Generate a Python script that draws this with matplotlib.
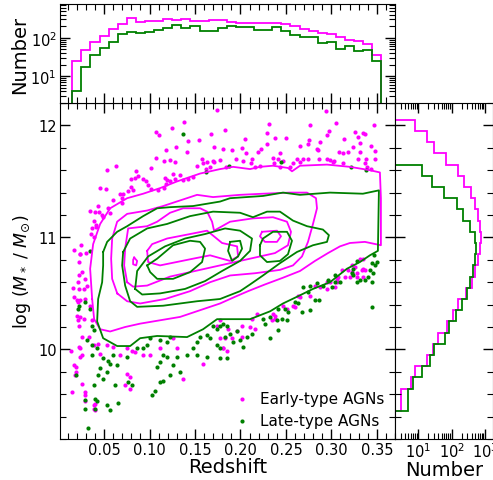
import numpy as np
import matplotlib
matplotlib.use("Agg")
import matplotlib.pyplot as plt
from matplotlib.ticker import MultipleLocator, LogLocator, NullFormatter

MAGENTA = "#ff00ff"
GREEN = "#008000"

# redshift histogram (34 bins of 0.01 starting at z = 0.015)
z_edges = np.linspace(0.015, 0.355, 35)
early_z_counts = [25, 48, 79, 110, 170, 228, 325, 262, 273, 277, 312, 290, 300, 267,
                  266, 290, 290, 257, 236, 245, 250, 250, 245, 228, 198, 173, 151,
                  134, 122, 106, 87, 82, 67, 36]
late_z_counts = [4, 17, 36, 53, 80, 127, 142, 131, 142, 163, 184, 216, 176, 206,
                 154, 154, 180, 198, 191, 195, 160, 160, 187, 154, 117, 104, 103,
                 74, 80, 50, 62, 46, 48, 25]

# stellar mass histogram (0.1 dex bins)
early_m_edges = np.linspace(9.45, 12.05, 27)
early_m_counts = [3, 3, 6, 8, 18, 28, 40, 74, 112, 158, 275, 398, 500, 600, 705,
                  755, 705, 625, 522, 370, 240, 151, 67, 30, 18, 8]
late_m_edges = np.linspace(9.45, 11.65, 23)
late_m_counts = [5, 5, 7, 13, 23, 30, 63, 85, 132, 209, 283, 355, 444, 522, 536,
                 500, 355, 224, 141, 59, 25, 13]

# individual galaxies outside the contours: (redshift, log M*)
early_pts = [
    (0.1746, 12.14), (0.2941, 12.13), (0.138, 12.03), (0.231, 12.01), (0.2765, 12.00),
    (0.305, 12.02), (0.347, 12.00), (0.125, 11.98), (0.183, 11.96), (0.107, 11.94),
    (0.110, 11.91), (0.168, 11.92), (0.2296, 11.93), (0.297, 11.95), (0.326, 11.94),
    (0.335, 11.93), (0.337, 11.92), (0.2955, 11.91), (0.238, 11.89), (0.250, 11.89),
    (0.314, 11.88), (0.1427, 11.86), (0.1548, 11.87), (0.2054, 11.88), (0.2757, 11.87),
    (0.2875, 11.85), (0.329, 11.90), (0.1296, 11.81), (0.1713, 11.81), (0.2296, 11.83),
    (0.2655, 11.82), (0.274, 11.83), (0.3314, 11.84), (0.3432, 11.82), (0.1182, 11.78),
    (0.1812, 11.79), (0.1904, 11.78), (0.2014, 11.80), (0.2226, 11.79), (0.2838, 11.79),
    (0.2856, 11.78), (0.308, 11.76), (0.3234, 11.81), (0.348, 11.77), (0.141, 11.76),
    (0.2058, 11.75), (0.2197, 11.76), (0.2438, 11.75), (0.3131, 11.75), (0.3186, 11.76),
    (0.3314, 11.76), (0.1073, 11.71), (0.1581, 11.70), (0.163, 11.67), (0.1696, 11.68),
    (0.1776, 11.69), (0.1948, 11.70), (0.2029, 11.68), (0.2124, 11.70), (0.2362, 11.71),
    (0.241, 11.70), (0.2471, 11.68), (0.2619, 11.70), (0.2691, 11.70), (0.2746, 11.70),
    (0.2867, 11.70), (0.2948, 11.70), (0.2985, 11.69), (0.3032, 11.68), (0.3289, 11.70),
    (0.3377, 11.70), (0.3476, 11.70), (0.1157, 11.68), (0.1226, 11.69), (0.1281, 11.67),
    (0.1018, 11.62), (0.152, 11.64), (0.1592, 11.66), (0.1622, 11.61), (0.1666, 11.63),
    (0.1713, 11.67), (0.1838, 11.63), (0.212, 11.66), (0.216, 11.63), (0.2215, 11.64),
    (0.2373, 11.66), (0.2435, 11.63), (0.2545, 11.63), (0.2581, 11.66), (0.2655, 11.67),
    (0.3021, 11.67), (0.3131, 11.66), (0.3369, 11.66), (0.3388, 11.63), (0.3432, 11.61),
    (0.0856, 11.59), (0.0537, 11.60), (0.0633, 11.64), (0.0871, 11.55), (0.0842, 11.53),
    (0.0795, 11.52), (0.0933, 11.52), (0.0963, 11.50), (0.1263, 11.57), (0.1336, 11.56),
    (0.1171, 11.53), (0.1197, 11.51), (0.1226, 11.50), (0.1281, 11.52), (0.1366, 11.51),
    (0.1427, 11.52), (0.1482, 11.54), (0.0988, 11.47), (0.1014, 11.43), (0.1091, 11.42),
    (0.1179, 11.48), (0.116, 11.44), (0.0798, 11.45), (0.0816, 11.42), (0.0768, 11.41),
    (0.0713, 11.39), (0.0677, 11.39), (0.0457, 11.44), (0.052, 11.43), (0.0702, 11.35),
    (0.0603, 11.33), (0.0696, 11.31), (0.034, 11.24), (0.0432, 11.28), (0.0402, 11.23),
    (0.0449, 11.23), (0.0476, 11.20), (0.0493, 11.18), (0.0548, 11.26), (0.0567, 11.22),
    (0.0384, 11.15), (0.0413, 11.11), (0.0366, 11.08), (0.0358, 11.03), (0.0384, 11.00),
    (0.041, 11.09), (0.0248, 10.93), (0.0164, 10.89), (0.023, 10.85), (0.0303, 10.86),
    (0.0157, 10.55), (0.0223, 10.78), (0.0223, 10.66), (0.0215, 10.60), (0.0223, 10.54),
    (0.0201, 10.44), (0.0215, 10.42), (0.0201, 10.30), (0.0215, 10.26), (0.0223, 10.21),
    (0.0135, 9.99), (0.0219, 10.02), (0.0171, 9.86), (0.0186, 9.84), (0.0186, 9.80),
    (0.0146, 9.62), (0.0237, 9.93), (0.0237, 10.85), (0.0256, 10.69), (0.0292, 10.63),
    (0.0311, 10.57), (0.0274, 10.54), (0.0164, 10.47), (0.0237, 10.44), (0.0292, 10.45),
    (0.0347, 10.39), (0.0237, 10.29), (0.0274, 10.27), (0.0366, 10.26), (0.0256, 10.11),
    (0.0329, 10.11), (0.0237, 10.01), (0.0256, 9.95), (0.0182, 9.77), (0.0256, 9.69),
    (0.0292, 9.62), (0.0292, 9.59), (0.0384, 9.50), (0.0384, 9.47), (0.0384, 10.04),
    (0.0438, 10.05), (0.0457, 9.96), (0.0531, 10.04), (0.0603, 10.02), (0.0677, 9.95),
    (0.0751, 10.01), (0.0805, 9.99), (0.0842, 9.98), (0.0933, 9.95), (0.1007, 9.95),
    (0.1116, 10.01), (0.1263, 10.10), (0.13, 10.01), (0.0751, 9.78), (0.0787, 9.75),
    (0.0732, 9.68), (0.0787, 9.65), (0.1373, 9.74), (0.1592, 9.87), (0.1812, 10.01),
    (0.174, 10.21), (0.1776, 10.10), (0.0285, 9.54), (0.0395, 9.51), (0.0395, 9.46),
    (0.1776, 10.26), (0.1867, 10.18), (0.2014, 10.21), (0.2124, 10.27), (0.216, 10.18),
    (0.2105, 10.20), (0.1831, 10.10), (0.1904, 10.10), (0.2014, 10.11), (0.1812, 10.01),
    (0.1856, 9.99), (0.2362, 10.32), (0.238, 10.27), (0.26, 10.38), (0.2636, 10.48),
    (0.2765, 10.48), (0.282, 10.57), (0.2948, 10.60), (0.3058, 10.60), (0.3076, 10.65),
    (0.304, 10.56), (0.3113, 10.71), (0.3223, 10.69), (0.3278, 10.68), (0.3333, 10.71),
    (0.3351, 10.72), (0.3259, 10.74), (0.3223, 10.75), (0.3314, 10.81), (0.3351, 10.81),
    (0.3204, 10.65), (0.3278, 10.65), (0.3369, 10.71), (0.3351, 10.65), (0.3186, 10.71),
    (0.3149, 10.65), (0.3058, 10.63), (0.2985, 10.60), (0.2875, 10.56), (0.2948, 10.54),
    (0.2655, 10.47), (0.2581, 10.39), (0.2509, 10.36), (0.2471, 10.39), (0.238, 10.30),
    (0.2179, 10.32), (0.2344, 10.26), (0.1959, 10.16),
]
late_pts = [
    (0.1373, 11.92), (0.1622, 11.58), (0.1878, 11.64), (0.2443, 11.67), (0.3212, 11.63),
    (0.338, 11.60), (0.0347, 10.88), (0.0215, 10.36), (0.0223, 10.39), (0.0193, 9.77),
    (0.0292, 10.42), (0.0347, 10.36), (0.0366, 10.21), (0.0384, 10.17), (0.0311, 10.08),
    (0.0366, 10.04), (0.0421, 10.01), (0.0366, 9.95), (0.0493, 9.92), (0.0548, 9.90),
    (0.0567, 9.87), (0.0457, 9.83), (0.0531, 9.80), (0.0438, 9.77), (0.0493, 9.74),
    (0.0641, 9.86), (0.0603, 9.95), (0.0751, 9.93), (0.086, 10.01), (0.0933, 10.01),
    (0.097, 10.04), (0.1007, 10.10), (0.1116, 10.08), (0.119, 10.07), (0.1226, 10.11),
    (0.1153, 9.95), (0.119, 9.93), (0.13, 9.93), (0.1116, 9.89), (0.1263, 9.86),
    (0.108, 9.84), (0.1153, 9.72), (0.1116, 9.71), (0.1226, 9.77), (0.1336, 9.80),
    (0.141, 9.95), (0.1482, 10.01), (0.152, 10.07), (0.1556, 10.11), (0.163, 10.13),
    (0.1666, 10.10), (0.174, 10.04), (0.1849, 9.92), (0.152, 9.95), (0.163, 9.93),
    (0.0622, 9.68), (0.0768, 9.71), (0.0805, 9.68), (0.0384, 9.68), (0.0402, 9.56),
    (0.0421, 9.54), (0.0292, 9.47), (0.0531, 9.50), (0.0567, 9.46), (0.0658, 9.52),
    (0.1025, 9.59), (0.1062, 9.63), (0.1776, 10.01), (0.1702, 10.21), (0.174, 10.18),
    (0.1812, 10.23), (0.0292, 9.55), (0.0395, 9.47), (0.0318, 9.30), (0.1776, 10.21),
    (0.1849, 10.21), (0.1886, 10.14), (0.1959, 10.16), (0.1831, 10.11), (0.1922, 10.07),
    (0.1996, 10.08), (0.2032, 10.02), (0.1776, 9.92), (0.2252, 10.27), (0.227, 10.23),
    (0.2325, 10.29), (0.2399, 10.26), (0.2454, 10.27), (0.2509, 10.26), (0.2416, 10.36),
    (0.249, 10.36), (0.2526, 10.33), (0.26, 10.42), (0.2636, 10.41), (0.2674, 10.33),
    (0.2765, 10.35), (0.282, 10.44), (0.2867, 10.44), (0.2746, 10.51), (0.2691, 10.56),
    (0.2765, 10.57), (0.2838, 10.59), (0.2911, 10.57), (0.3003, 10.56), (0.304, 10.60),
    (0.3095, 10.60), (0.304, 10.66), (0.2966, 10.62), (0.3223, 10.68), (0.3241, 10.72),
    (0.3278, 10.60), (0.3314, 10.62), (0.3369, 10.62), (0.3443, 10.60), (0.3405, 10.65),
    (0.3424, 10.71), (0.346, 10.68), (0.3443, 10.77), (0.3479, 10.75), (0.3498, 10.78),
    (0.3468, 10.84), (0.3443, 10.38), (0.2325, 10.10), (0.2416, 10.17), (0.2069, 10.11),
    (0.2124, 10.14), (0.3278, 10.79), (0.3241, 10.66),
]

# density contours of early-type hosts, outermost level first
early_contours = [
    [(0.0369, 10.45), (0.0347, 10.72), (0.038, 10.94), (0.0457, 11.12), (0.0567, 11.26),
     (0.0754, 11.35), (0.093, 11.39), (0.1116, 11.44), (0.1303, 11.50), (0.1556, 11.57),
     (0.1776, 11.61), (0.1919, 11.63), (0.2106, 11.61), (0.2215, 11.63), (0.2358, 11.64),
     (0.2523, 11.62), (0.2567, 11.59), (0.2655, 11.64), (0.2952, 11.65), (0.3204, 11.63),
     (0.3424, 11.60), (0.3534, 11.58), (0.3545, 11.35), (0.3545, 10.93), (0.3369, 10.96),
     (0.3204, 10.95), (0.3095, 10.92), (0.2963, 10.86), (0.282, 10.79), (0.2655, 10.70),
     (0.2468, 10.64), (0.227, 10.58), (0.2084, 10.52), (0.1941, 10.47), (0.1776, 10.41),
     (0.1556, 10.35), (0.1336, 10.29), (0.1116, 10.26), (0.0897, 10.23), (0.0732, 10.20),
     (0.0567, 10.16), (0.0457, 10.18), (0.0391, 10.27)],
    [(0.0645, 10.50), (0.0589, 10.63), (0.0578, 10.81), (0.0589, 10.99), (0.0644, 11.14),
     (0.0754, 11.21), (0.0974, 11.24), (0.1149, 11.28), (0.1336, 11.33), (0.1523, 11.38),
     (0.1699, 11.36), (0.1996, 11.38), (0.2248, 11.39), (0.2545, 11.40), (0.2732, 11.40),
     (0.2831, 11.35), (0.2842, 11.26), (0.2798, 11.12), (0.2743, 10.96), (0.2677, 10.83),
     (0.2578, 10.75), (0.2435, 10.71), (0.216, 10.68), (0.1886, 10.66), (0.1666, 10.60),
     (0.1446, 10.52), (0.1172, 10.45), (0.0897, 10.41), (0.0754, 10.43)],
    [(0.0754, 10.60), (0.0721, 10.75), (0.0732, 10.90), (0.0765, 11.08), (0.0974, 11.10),
     (0.1084, 11.14), (0.1226, 11.22), (0.1369, 11.26), (0.1556, 11.26), (0.1633, 11.23),
     (0.1688, 11.14), (0.171, 11.06), (0.1798, 11.10), (0.1886, 11.14), (0.2138, 11.17),
     (0.2358, 11.18), (0.2512, 11.14), (0.2556, 11.05), (0.2523, 10.93), (0.238, 10.86),
     (0.216, 10.82), (0.1886, 10.77), (0.1556, 10.71), (0.1226, 10.65), (0.0974, 10.57),
     (0.082, 10.56)],
    [(0.0974, 10.88), (0.1029, 10.94), (0.1193, 10.99), (0.1446, 11.03), (0.1633, 11.06),
     (0.1798, 10.95), (0.1963, 10.92), (0.1974, 10.83), (0.1886, 10.79), (0.1666, 10.84),
     (0.1479, 10.81), (0.1116, 10.75), (0.0985, 10.78)],
    [(0.2237, 11.05), (0.2402, 11.06), (0.2446, 11.01), (0.2402, 10.96), (0.227, 10.96),
     (0.2215, 11.01)],
    [(0.0831, 10.82), (0.0864, 10.79), (0.0853, 10.75), (0.082, 10.76), (0.082, 10.80)],
]

# density contours of late-type hosts, outermost level first
late_contours = [
    [(0.049, 10.87), (0.049, 10.75), (0.0479, 10.60), (0.0435, 10.45), (0.0424, 10.25),
     (0.049, 10.10), (0.0644, 10.03), (0.0787, 10.03), (0.0897, 10.10), (0.1084, 10.12),
     (0.1413, 10.11), (0.1589, 10.18), (0.1743, 10.27), (0.1886, 10.27), (0.2106, 10.27),
     (0.2326, 10.34), (0.2468, 10.41), (0.2622, 10.47), (0.2798, 10.54), (0.2985, 10.60),
     (0.3171, 10.72), (0.3314, 10.78), (0.3424, 10.84), (0.3512, 10.88), (0.3523, 11.42),
     (0.3347, 11.39), (0.2985, 11.40), (0.2655, 11.38), (0.2468, 11.40), (0.2248, 11.37),
     (0.1886, 11.35), (0.1776, 11.32), (0.148, 11.28), (0.1226, 11.27), (0.1084, 11.26),
     (0.093, 11.19), (0.0754, 11.10), (0.0644, 11.05), (0.0534, 10.96)],
    [(0.071, 10.87), (0.0787, 10.99), (0.0974, 11.08), (0.1193, 11.12), (0.1446, 11.19),
     (0.1699, 11.23), (0.1996, 11.22), (0.2138, 11.18), (0.2292, 11.23), (0.2435, 11.23),
     (0.2578, 11.15), (0.2732, 11.10), (0.2907, 11.07), (0.2973, 11.02), (0.2952, 10.96),
     (0.2798, 10.93), (0.2622, 10.87), (0.2435, 10.77), (0.2248, 10.66), (0.2106, 10.58),
     (0.1996, 10.52), (0.1776, 10.45), (0.1523, 10.43), (0.1149, 10.39), (0.0864, 10.38),
     (0.0787, 10.43), (0.0732, 10.57), (0.0699, 10.75)],
    [(0.0842, 10.54), (0.0864, 10.70), (0.0985, 10.83), (0.1171, 10.92), (0.1391, 10.99),
     (0.1611, 11.03), (0.1831, 11.08), (0.1996, 11.06), (0.2127, 10.99), (0.2106, 10.88),
     (0.1996, 10.79), (0.1798, 10.70), (0.1611, 10.61), (0.1391, 10.54), (0.1116, 10.50),
     (0.0919, 10.49)],
    [(0.0974, 10.75), (0.1084, 10.81), (0.1259, 10.93), (0.1446, 10.97), (0.1556, 10.96),
     (0.1611, 10.90), (0.1578, 10.78), (0.1446, 10.69), (0.1259, 10.63), (0.1084, 10.63),
     (0.1007, 10.69)],
    [(0.2215, 10.93), (0.2248, 10.99), (0.2358, 11.05), (0.2512, 11.05), (0.2567, 10.97),
     (0.2523, 10.85), (0.2435, 10.79), (0.2292, 10.78), (0.2215, 10.84)],
    [(0.1886, 10.96), (0.1996, 10.97), (0.2018, 10.90), (0.1974, 10.83), (0.1908, 10.79),
     (0.1864, 10.88)],
]


def closed(path):
    arr = np.array(path + [path[0]])
    return arr[:, 0], arr[:, 1]


W, H = 493, 481
fig = plt.figure(figsize=(W / 100, H / 100), dpi=100)
ax = fig.add_axes([59.5 / W, 41 / H, 335.5 / W, 336 / H])
ax_top = fig.add_axes([59.5 / W, 377 / H, 335.5 / W, 99 / H], sharex=ax)
ax_right = fig.add_axes([395 / W, 41 / H, 98 / W, 336 / H], sharey=ax)

# scatter + contours
early = np.array(early_pts)
late = np.array(late_pts)
ax.scatter(early[:, 0], early[:, 1], s=9, color=MAGENTA, linewidths=0,
           label="Early-type AGNs", zorder=2)
ax.scatter(late[:, 0], late[:, 1], s=9, color=GREEN, linewidths=0,
           label="Late-type AGNs", zorder=2)
for c in early_contours:
    ax.plot(*closed(c), color=MAGENTA, lw=1.3, zorder=3)
for c in late_contours:
    ax.plot(*closed(c), color=GREEN, lw=1.3, zorder=3)

ax.set_xlim(0.001, 0.37)
ax.set_ylim(9.2, 12.2)
ax.xaxis.set_major_locator(MultipleLocator(0.05))
ax.xaxis.set_minor_locator(MultipleLocator(0.01))
ax.yaxis.set_major_locator(MultipleLocator(1))
ax.yaxis.set_minor_locator(MultipleLocator(0.2))
ax.set_xticks([0.05, 0.10, 0.15, 0.20, 0.25, 0.30, 0.35])
ax.set_xticklabels(["0.05", "0.10", "0.15", "0.20", "0.25", "0.30", "0.35"])
ax.set_xlabel("Redshift", fontsize=14, labelpad=0)
ax.set_ylabel(r"log ($M_*$ / $M_{\odot}$)", fontsize=12.5, labelpad=4)
ax.legend(loc="lower right", frameon=False, fontsize=11, markerscale=1.0,
          handletextpad=0.2, borderaxespad=0.3, labelspacing=0.5)

# redshift histogram on top
ax_top.stairs(early_z_counts, z_edges, baseline=0.1, color=MAGENTA, lw=1.3)
ax_top.stairs(late_z_counts, z_edges, baseline=0.1, color=GREEN, lw=1.3)
ax_top.set_yscale("log")
ax_top.set_ylim(2.0, 760)
ax_top.set_ylabel("Number", fontsize=14, labelpad=1)
ax_top.tick_params(labelbottom=False)

# mass histogram on the right
ax_right.stairs(early_m_counts, early_m_edges, baseline=0.1, color=MAGENTA, lw=1.3,
                orientation="horizontal")
ax_right.stairs(late_m_counts, late_m_edges, baseline=0.1, color=GREEN, lw=1.3,
                orientation="horizontal")
ax_right.set_xscale("log")
ax_right.set_xlim(2.0, 1750)
ax_right.set_xlabel("Number", fontsize=14, labelpad=0)
ax_right.tick_params(labelleft=False)

for a in (ax, ax_top, ax_right):
    a.tick_params(which="both", direction="in", top=True, right=True,
                  labelsize=10.5, pad=2)
    a.tick_params(which="major", length=7, width=1)
    a.tick_params(which="minor", length=4, width=0.8)

ax_right.xaxis.set_major_locator(LogLocator(base=10, numticks=10))
ax_right.xaxis.set_minor_locator(LogLocator(base=10, subs=np.arange(2, 10), numticks=10))
ax_right.xaxis.set_minor_formatter(NullFormatter())
ax_top.yaxis.set_minor_formatter(NullFormatter())

fig.savefig("out.png", dpi=100)
